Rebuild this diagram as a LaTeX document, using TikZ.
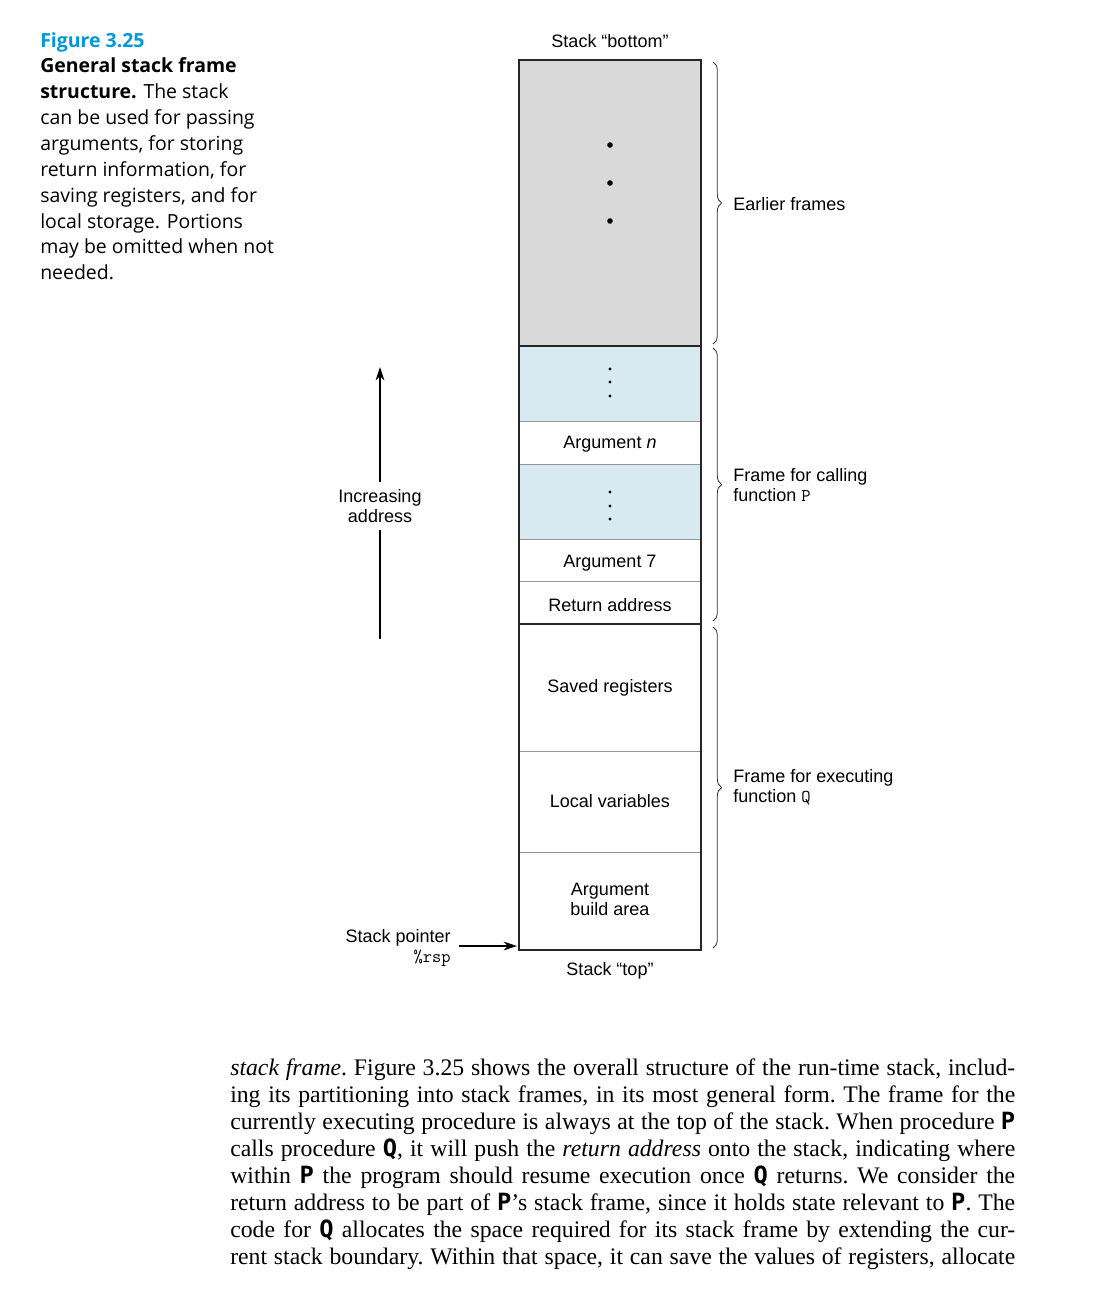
\documentclass[tikz,border=0pt]{standalone}
\usepackage{fontspec}
\setmainfont{Liberation Serif}
\newfontfamily\diagfont{Liberation Sans}
\newfontfamily\capfont{Open Sans}
\newfontfamily\codefont{DejaVu Sans Mono}
\usetikzlibrary{decorations.pathreplacing,arrows.meta}
\definecolor{figcyan}{RGB}{0,152,218}
\definecolor{stackgray}{RGB}{217,217,217}
\definecolor{stackblue}{RGB}{216,234,241}
\definecolor{cellline}{RGB}{150,150,150}
\newcommand{\cP}{{\codefont\bfseries P}}
\newcommand{\cQ}{{\codefont\bfseries Q}}
\begin{document}
\begin{tikzpicture}[x=0.75pt,y=-0.75pt,
  diaglabel/.style={font=\diagfont\fontsize{13.5}{15}\selectfont, inner sep=2pt},
  celltext/.style={diaglabel, align=center},
  sidelabel/.style={diaglabel, anchor=west, align=left, inner sep=0pt},
  thinrule/.style={draw=cellline, line width=0.6pt},
  thickrule/.style={draw=black!85, line width=1.5pt},
  bracestyle/.style={draw=black!80, line width=0.6pt, decorate, decoration={brace, amplitude=6.5pt}},
  arr/.style={line width=1.1pt, -{Stealth[length=10pt,width=6.5pt]}}
]
\useasboundingbox (0,0) rectangle (1114,1300);

% caption
\node[anchor=base west, inner sep=0pt] (caption) at (40,47) {\parbox[t]{260pt}{\capfont\fontsize{14.6}{19.4}\selectfont
\textcolor{figcyan}{\bfseries Figure 3.25}\\
\textbf{General stack frame}\\
\textbf{structure.} The stack\\
can be used for passing\\
arguments, for storing\\
return information, for\\
saving registers, and for\\
local storage. Portions\\
may be omitted when not\\
needed.}};

% stack cells
\fill[stackgray] (519,60) rectangle (701,346);
\fill[stackblue] (519,346) rectangle (701,421);
\fill[stackblue] (519,464) rectangle (701,539);
\foreach \yy in {421,464,539,581,751,852} \draw[thinrule] (519,\yy) -- (701,\yy);
\draw[thickrule] (519,346) -- (701,346);
\draw[thickrule] (519,624) -- (701,624);
\draw[thickrule] (519,60) rectangle (701,950);

% dots
\foreach \yy in {145,183,221} \fill (610,\yy) circle (2.1pt);
\foreach \yy in {369,382,396,492,506,519} \fill (610,\yy) circle (1.2pt);

% cell texts
\node[diaglabel] (bottom) at (610,41) {Stack “bottom”};
\node[diaglabel] (top) at (610,971) {Stack “top”};
\node[celltext] (argn) at (610,444) {Argument \textit{n}};
\node[celltext] (arg7) at (610,563) {Argument 7};
\node[celltext] (ret) at (610,605) {Return address};
\node[celltext] (saved) at (610,688) {Saved registers};
\node[celltext] (local) at (610,801) {Local variables};
\node[celltext] (build) at (610,899) {Argument\\build area};

% braces
\draw[bracestyle] (713,62) -- (713,344);
\draw[bracestyle] (713,348) -- (713,621);
\draw[bracestyle] (713,627) -- (713,948);
\node[sidelabel] (earlier) at (733,204) {Earlier frames};
\node[sidelabel] (frameP) at (733,485) {Frame for calling\\function \texttt{P}};
\node[sidelabel] (frameQ) at (733,787) {Frame for executing\\function \texttt{Q}};

% increasing address
\node[celltext, inner sep=5pt] (inc) at (380,506) {Increasing\\address};
\coordinate (arrtop) at (380,367);
\coordinate (arrbot) at (380,639);
\draw[arr] (inc.north) -- (arrtop);
\draw[line width=1.1pt] (arrbot) -- (inc.south);

% stack pointer
\node[diaglabel, anchor=east, align=right, inner sep=0pt] (sp) at (451,948) {Stack pointer\\\texttt{\%rsp}};
\coordinate (spfrom) at (459,946);
\coordinate (sptip) at (517,946);
\draw[arr] (spfrom) -- (sptip);

% body text
\node[anchor=base west, inner sep=0pt] (body) at (230,1075) {\parbox[t]{588.75pt}{\fontsize{17.8}{20.25}\selectfont\frenchspacing
\parindent=0pt \parfillskip=0pt \tolerance=10000 \hyphenpenalty=10000 \emergencystretch=20pt
\textit{stack frame}. Figure 3.25 shows the overall structure of the run-time stack, includ-\linebreak
ing its partitioning into stack frames, in its most general form. The frame for the\linebreak
currently executing procedure is always at the top of the stack. When procedure \cP\linebreak
calls procedure \cQ, it will push the \textit{return address} onto the stack, indicating where\linebreak
within \cP{} the program should resume execution once \cQ{} returns. We consider the\linebreak
return address to be part of \cP’s stack frame, since it holds state relevant to \cP. The\linebreak
code for \cQ{} allocates the space required for its stack frame by extending the cur-\linebreak
rent stack boundary. Within that space, it can save the values of registers, allocate\par}};
\end{tikzpicture}
\end{document}
